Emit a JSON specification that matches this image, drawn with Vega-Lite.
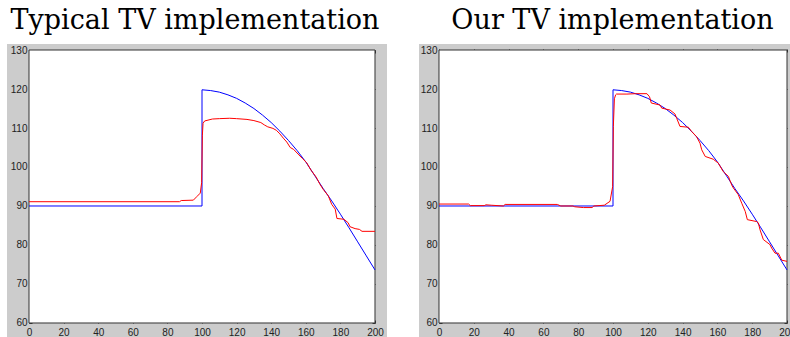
{
  "$schema": "https://vega.github.io/schema/vega-lite/v6.json",
  "background": "white",
  "padding": {"left": 7, "top": 7, "right": 0, "bottom": 0},
  "spacing": 32,
  "config": {
    "view": {"fill": "#cccccc", "stroke": null},
    "axis": {"domain": false, "grid": false, "tickSize": -3, "tickColor": "#333333", "tickWidth": 1, "labelColor": "#222222", "labelFont": "Liberation Sans", "labelFontSize": 10, "zindex": 1},
    "title": {"font": "DejaVu Serif", "fontSize": 27, "fontWeight": "normal", "color": "#000000", "anchor": "middle", "offset": 9}
  },
  "datasets": {
    "box": [{"x0": 0, "x1": 200, "y0": 60, "y1": 130}],
    "blue": [
      {"i": 0, "x": 0, "y": 90}, {"i": 1, "x": 100, "y": 90}, {"i": 2, "x": 100, "y": 119.8},
      {"i": 3, "x": 105, "y": 119.6}, {"i": 4, "x": 110, "y": 119.2}, {"i": 5, "x": 115, "y": 118.5},
      {"i": 6, "x": 120, "y": 117.6}, {"i": 7, "x": 125, "y": 116.4}, {"i": 8, "x": 130, "y": 115.0},
      {"i": 9, "x": 135, "y": 113.3}, {"i": 10, "x": 140, "y": 111.4}, {"i": 11, "x": 145, "y": 109.2},
      {"i": 12, "x": 150, "y": 106.8}, {"i": 13, "x": 155, "y": 104.2}, {"i": 14, "x": 160, "y": 101.3},
      {"i": 15, "x": 165, "y": 97.9}, {"i": 16, "x": 170, "y": 94.5}, {"i": 17, "x": 175, "y": 91.3},
      {"i": 18, "x": 180, "y": 87.9}, {"i": 19, "x": 185, "y": 84.4}, {"i": 20, "x": 190, "y": 80.8},
      {"i": 21, "x": 195, "y": 77.2}, {"i": 22, "x": 200, "y": 73.6}
    ],
    "redL": [
      {"x": 0, "y": 91.1}, {"x": 87, "y": 91.1}, {"x": 88, "y": 91.4}, {"x": 95, "y": 91.5},
      {"x": 97, "y": 92.4}, {"x": 99, "y": 93.3}, {"x": 99.8, "y": 96.0}, {"x": 100.2, "y": 108.0},
      {"x": 100.6, "y": 111.2}, {"x": 101.5, "y": 111.8}, {"x": 106, "y": 112.3}, {"x": 110, "y": 112.4},
      {"x": 116, "y": 112.5}, {"x": 120, "y": 112.4}, {"x": 126, "y": 112.2}, {"x": 130, "y": 111.9},
      {"x": 134, "y": 111.4}, {"x": 136, "y": 110.8}, {"x": 138, "y": 110.3}, {"x": 141, "y": 109.9},
      {"x": 143, "y": 109.4}, {"x": 145, "y": 108.5}, {"x": 147, "y": 107.4}, {"x": 149, "y": 106.4},
      {"x": 151, "y": 105.0}, {"x": 153, "y": 104.5}, {"x": 156, "y": 103.1}, {"x": 158, "y": 102.2},
      {"x": 160.5, "y": 101.1}, {"x": 163, "y": 99.2}, {"x": 166, "y": 97.4}, {"x": 168, "y": 95.7},
      {"x": 170, "y": 94.3}, {"x": 173, "y": 92.6}, {"x": 175, "y": 90.4}, {"x": 177, "y": 89.2},
      {"x": 178, "y": 86.8}, {"x": 182, "y": 86.6}, {"x": 184.5, "y": 85.7}, {"x": 185.5, "y": 84.7},
      {"x": 188.5, "y": 84.2}, {"x": 191, "y": 84.0}, {"x": 192.5, "y": 83.5}, {"x": 200, "y": 83.5}
    ],
    "redR": [
      {"x": 0, "y": 90.5}, {"x": 17, "y": 90.5}, {"x": 18, "y": 90.1}, {"x": 26, "y": 90.1},
      {"x": 27, "y": 90.3}, {"x": 30, "y": 90.2}, {"x": 37, "y": 90.0}, {"x": 38, "y": 90.4},
      {"x": 68, "y": 90.4}, {"x": 70, "y": 90.0}, {"x": 77, "y": 90.0}, {"x": 78, "y": 89.8},
      {"x": 83, "y": 89.6}, {"x": 88, "y": 89.6}, {"x": 89, "y": 90.0}, {"x": 95, "y": 90.2},
      {"x": 98.3, "y": 91.2}, {"x": 99.8, "y": 95.0}, {"x": 100.2, "y": 110.4}, {"x": 100.8, "y": 117.5},
      {"x": 101.5, "y": 118.5}, {"x": 102, "y": 118.7}, {"x": 108, "y": 118.7}, {"x": 113, "y": 118.8},
      {"x": 119.5, "y": 118.8}, {"x": 121, "y": 118.0}, {"x": 122, "y": 116.4}, {"x": 127, "y": 115.9},
      {"x": 128, "y": 115.1}, {"x": 132.8, "y": 114.6}, {"x": 135.6, "y": 113.6}, {"x": 136.6, "y": 112.5},
      {"x": 138.5, "y": 110.4}, {"x": 143.3, "y": 110.2}, {"x": 145.2, "y": 109.1}, {"x": 148, "y": 107.8},
      {"x": 150, "y": 106.1}, {"x": 151, "y": 104.4}, {"x": 153, "y": 102.7}, {"x": 157.6, "y": 102.0},
      {"x": 160.5, "y": 101.0}, {"x": 163.4, "y": 98.8}, {"x": 166.3, "y": 97.6}, {"x": 168.2, "y": 95.4},
      {"x": 169.2, "y": 94.6}, {"x": 172, "y": 92.9}, {"x": 174, "y": 90.7}, {"x": 176, "y": 88.6},
      {"x": 177.2, "y": 86.5}, {"x": 182.6, "y": 86.0}, {"x": 183.5, "y": 85.7}, {"x": 184.5, "y": 83.9},
      {"x": 186.4, "y": 81.4}, {"x": 190.2, "y": 80.1}, {"x": 191.2, "y": 79.2}, {"x": 193.1, "y": 77.9},
      {"x": 195, "y": 77.9}, {"x": 197, "y": 76.1}, {"x": 200, "y": 75.8}
    ]
  },
  "hconcat": [
    {
      "width": 380,
      "height": 294,
      "title": {"text": "Typical TV implementation", "dx": -2},
      "layer": [
        {
          "data": {"name": "box"},
          "mark": {"type": "rect", "fill": "white", "stroke": "#333333", "strokeWidth": 1},
          "encoding": {
            "x": {"field": "x0", "type": "quantitative", "scale": {"domain": [-12.72, 206.94], "nice": false, "zero": false}, "axis": null},
            "x2": {"field": "x1"},
            "y": {"field": "y0", "type": "quantitative", "scale": {"domain": [56.15, 131.54], "nice": false, "zero": false}, "axis": null},
            "y2": {"field": "y1"}
          }
        },
        {
          "data": {"name": "blue"},
          "mark": {"type": "line", "color": "#0000ff", "strokeWidth": 1},
          "encoding": {
            "x": {"field": "x", "type": "quantitative", "scale": {"domain": [-12.72, 206.94], "nice": false, "zero": false},
                  "axis": {"orient": "bottom", "offset": -15, "values": [0, 20, 40, 60, 80, 100, 120, 140, 160, 180, 200], "labelPadding": 7, "title": null}},
            "y": {"field": "y", "type": "quantitative", "scale": {"domain": [56.15, 131.54], "nice": false, "zero": false},
                  "axis": {"orient": "left", "offset": -22, "values": [60, 70, 80, 90, 100, 110, 120, 130], "labelPadding": 5, "title": null}},
            "order": {"field": "i"}
          }
        },
        {
          "data": {"name": "redL"},
          "mark": {"type": "line", "color": "#ff0000", "strokeWidth": 1},
          "encoding": {
            "x": {"field": "x", "type": "quantitative", "scale": {"domain": [-12.72, 206.94], "nice": false, "zero": false},
                  "axis": {"orient": "top", "offset": -6, "values": [0, 20, 40, 60, 80, 100, 120, 140, 160, 180, 200], "labels": false, "title": null}},
            "y": {"field": "y", "type": "quantitative", "scale": {"domain": [56.15, 131.54], "nice": false, "zero": false},
                  "axis": {"orient": "right", "offset": -12, "values": [60, 70, 80, 90, 100, 110, 120, 130], "labels": false, "title": null}}
          }
        }
      ]
    },
    {
      "width": 371,
      "height": 294,
      "title": {"text": "Our TV implementation", "dx": 8},
      "layer": [
        {
          "data": {"name": "box"},
          "mark": {"type": "rect", "fill": "white", "stroke": "#333333", "strokeWidth": 1},
          "encoding": {
            "x": {"field": "x0", "type": "quantitative", "scale": {"domain": [-11.49, 201.72], "nice": false, "zero": false}, "axis": null},
            "x2": {"field": "x1"},
            "y": {"field": "y0", "type": "quantitative", "scale": {"domain": [56.15, 131.54], "nice": false, "zero": false}, "axis": null},
            "y2": {"field": "y1"}
          }
        },
        {
          "data": {"name": "blue"},
          "mark": {"type": "line", "color": "#0000ff", "strokeWidth": 1},
          "encoding": {
            "x": {"field": "x", "type": "quantitative", "scale": {"domain": [-11.49, 201.72], "nice": false, "zero": false},
                  "axis": {"orient": "bottom", "offset": -15, "values": [0, 20, 40, 60, 80, 100, 120, 140, 160, 180, 200], "labelPadding": 7, "title": null}},
            "y": {"field": "y", "type": "quantitative", "scale": {"domain": [56.15, 131.54], "nice": false, "zero": false},
                  "axis": {"orient": "left", "offset": -20, "values": [60, 70, 80, 90, 100, 110, 120, 130], "labelPadding": 5, "title": null}},
            "order": {"field": "i"}
          }
        },
        {
          "data": {"name": "redR"},
          "mark": {"type": "line", "color": "#ff0000", "strokeWidth": 1},
          "encoding": {
            "x": {"field": "x", "type": "quantitative", "scale": {"domain": [-11.49, 201.72], "nice": false, "zero": false},
                  "axis": {"orient": "top", "offset": -5, "values": [0, 20, 40, 60, 80, 100, 120, 140, 160, 180, 200], "labels": false, "title": null}},
            "y": {"field": "y", "type": "quantitative", "scale": {"domain": [56.15, 131.54], "nice": false, "zero": false},
                  "axis": {"orient": "right", "offset": -3, "values": [60, 70, 80, 90, 100, 110, 120, 130], "labels": false, "title": null}}
          }
        }
      ]
    }
  ]
}
